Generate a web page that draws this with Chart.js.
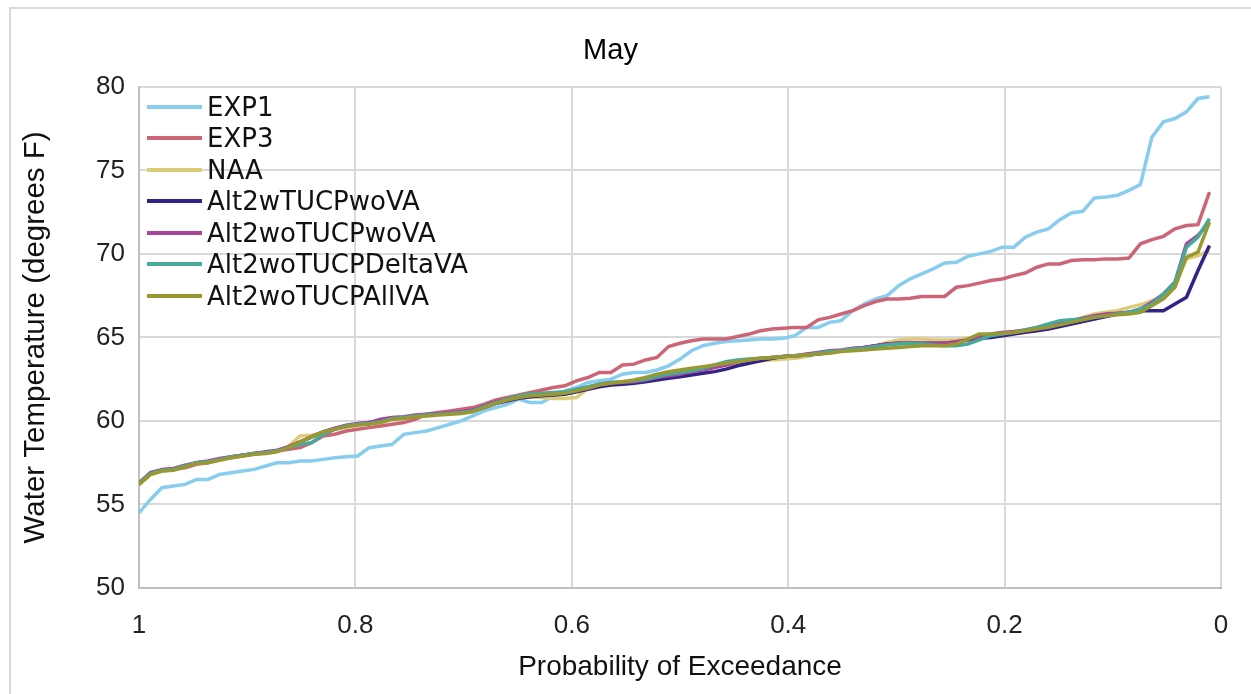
<!DOCTYPE html>
<html>
<head>
<meta charset="utf-8">
<script src="https://cdn.jsdelivr.net/npm/chart.js@4.4.1/dist/chart.umd.min.js"></script>
<style>
  html, body { margin: 0; padding: 0; background: #fff; }
  #wrap { position: relative; width: 1251px; height: 694px; overflow: hidden; }
  #frame { position: absolute; left: 9px; top: 7px; width: 1260px; height: 700px; border-left: 2px solid #d9d9d9; border-top: 2px solid #d9d9d9; }
  #legend { position: absolute; left: 147px; top: 91px; font-family: 'DejaVu Sans'; font-size: 26px; color: #111; }
  #legend .row { height: 31.5px; display: flex; align-items: center; white-space: nowrap; }
  #legend .sw { display: inline-block; width: 55px; height: 4px; margin-right: 5px; }
  canvas { position: absolute; left: 0; top: 0; }
</style>
</head>
<body>
<div id="wrap">
  <div id="frame"></div>
  <canvas id="myChart" width="1251" height="694"></canvas>
  <div id="legend"></div>
</div>
<script>
// 94 years ranked
const seriesNames = ['EXP1', 'EXP3', 'NAA', 'Alt2wTUCPwoVA', 'Alt2woTUCPwoVA', 'Alt2woTUCPDeltaVA', 'Alt2woTUCPAllVA'];
const seriesColors = ['#88CCEE', '#CC6677', '#DDCC77', '#332288', '#AA4499', '#44AA99', '#999933'];

const exp1 = [54.5,55.3,56.0,56.1,56.2,56.5,56.5,56.8,56.9,57.0,
  57.1,57.3,57.5,57.5,57.6,57.6,57.7,57.8,57.85,57.9,
  58.4,58.5,58.6,59.2,59.3,59.4,59.6,59.8,60.0,60.3,
  60.6,60.8,61.0,61.3,61.1,61.1,61.5,61.8,62.0,62.3,
  62.4,62.5,62.8,62.9,62.9,63.05,63.3,63.7,64.2,64.5,
  64.65,64.75,64.8,64.85,64.9,64.9,64.95,65.1,65.6,65.6,
  65.9,66.0,66.6,67.0,67.3,67.5,68.1,68.5,68.8,69.1,
  69.45,69.5,69.85,70.0,70.15,70.4,70.4,71.0,71.3,71.5,
  72.05,72.45,72.55,73.35,73.4,73.5,73.8,74.15,77.0,77.9,
  78.1,78.5,79.3,79.4];

const exp3 = [56.2,56.8,57.0,57.1,57.2,57.4,57.5,57.7,57.8,57.9,
  58.0,58.1,58.2,58.3,58.4,58.7,59.1,59.2,59.4,59.5,
  59.6,59.7,59.8,59.9,60.1,60.4,60.5,60.6,60.7,60.8,
  61.0,61.25,61.4,61.55,61.7,61.85,62.0,62.1,62.4,62.6,
  62.9,62.9,63.35,63.4,63.65,63.8,64.45,64.65,64.8,64.9,
  64.9,64.9,65.05,65.2,65.4,65.5,65.55,65.6,65.6,66.05,
  66.2,66.4,66.6,66.9,67.15,67.3,67.3,67.35,67.45,67.45,
  67.45,68.0,68.1,68.25,68.4,68.5,68.7,68.85,69.2,69.4,
  69.4,69.6,69.65,69.65,69.7,69.7,69.75,70.6,70.85,71.05,
  71.5,71.7,71.75,73.7];

const naa = [56.2,56.8,57.0,57.1,57.3,57.45,57.55,57.7,57.8,57.95,
  58.0,58.1,58.2,58.5,59.1,59.15,59.3,59.5,59.65,59.75,
  59.85,59.95,60.1,60.2,60.3,60.35,60.4,60.45,60.5,60.6,
  60.8,61.05,61.2,61.35,61.45,61.4,61.35,61.35,61.4,61.95,
  62.15,62.25,62.3,62.35,62.5,62.7,62.8,62.9,63.0,63.1,
  63.25,63.35,63.45,63.55,63.6,63.65,63.7,63.75,63.85,64.05,
  64.15,64.2,64.3,64.35,64.5,64.7,64.85,64.9,64.9,64.85,
  64.85,64.85,64.95,65.05,65.15,65.2,65.3,65.4,65.5,65.65,
  65.85,66.0,66.2,66.4,66.5,66.6,66.8,66.95,67.2,67.5,
  68.3,69.7,69.9,70.2];

const alt2wTucpWoVa = [56.25,56.9,57.05,57.1,57.3,57.5,57.55,57.7,57.85,57.95,
  58.05,58.1,58.2,58.45,58.75,59.05,59.35,59.55,59.7,59.8,
  59.9,60.0,60.15,60.2,60.3,60.35,60.4,60.45,60.5,60.6,
  60.8,61.05,61.2,61.35,61.45,61.5,61.55,61.6,61.75,61.9,
  62.05,62.15,62.2,62.25,62.35,62.45,62.55,62.65,62.75,62.85,
  62.95,63.1,63.3,63.45,63.6,63.75,63.85,63.9,63.95,64.0,
  64.1,64.2,64.3,64.4,64.5,64.6,64.65,64.65,64.65,64.65,
  64.65,64.7,64.85,64.95,65.0,65.1,65.2,65.3,65.4,65.5,
  65.65,65.8,65.95,66.1,66.25,66.4,66.5,66.6,66.6,66.6,
  67.0,67.4,69.0,70.5];

const alt2woTucpWoVa = [56.3,56.9,57.1,57.15,57.35,57.5,57.6,57.75,57.85,57.95,
  58.05,58.15,58.25,58.45,58.75,59.05,59.35,59.55,59.75,59.85,
  59.9,60.1,60.2,60.25,60.35,60.4,60.45,60.5,60.55,60.65,
  60.9,61.15,61.3,61.45,61.55,61.6,61.65,61.7,61.85,62.0,
  62.2,62.3,62.3,62.35,62.45,62.6,62.7,62.8,62.95,63.05,
  63.2,63.35,63.55,63.65,63.75,63.8,63.85,63.9,64.0,64.1,
  64.2,64.25,64.35,64.4,64.5,64.6,64.65,64.7,64.65,64.65,
  64.65,64.75,64.85,65.05,65.2,65.3,65.35,65.45,65.6,65.7,
  65.85,66.0,66.15,66.3,66.4,66.45,66.5,66.7,67.1,67.6,
  68.3,70.6,71.1,71.9];

const alt2woTucpDeltaVa = [56.25,56.85,57.05,57.1,57.3,57.5,57.55,57.7,57.85,57.95,
  58.05,58.1,58.2,58.4,58.6,58.7,59.2,59.5,59.7,59.8,
  59.85,59.95,60.15,60.2,60.3,60.35,60.4,60.45,60.5,60.6,
  60.85,61.1,61.3,61.5,61.6,61.65,61.7,61.75,61.9,62.05,
  62.2,62.3,62.35,62.4,62.5,62.65,62.8,62.9,63.0,63.15,
  63.35,63.55,63.65,63.7,63.75,63.8,63.85,63.9,63.95,64.05,
  64.15,64.2,64.3,64.35,64.45,64.55,64.6,64.65,64.6,64.55,
  64.5,64.5,64.6,64.85,65.1,65.2,65.3,65.45,65.6,65.8,
  66.0,66.05,66.1,66.2,66.3,66.4,66.5,66.7,67.0,67.6,
  68.3,70.4,71.0,72.1];

const alt2woTucpAllVa = [56.2,56.8,57.0,57.05,57.25,57.45,57.5,57.65,57.8,57.9,
  58.0,58.05,58.15,58.4,58.75,59.05,59.35,59.5,59.65,59.75,
  59.8,59.9,60.1,60.15,60.25,60.3,60.35,60.4,60.45,60.55,
  60.8,61.05,61.25,61.4,61.5,61.55,61.6,61.65,61.8,61.95,
  62.15,62.25,62.35,62.45,62.6,62.8,62.95,63.05,63.15,63.25,
  63.35,63.45,63.55,63.65,63.75,63.8,63.85,63.9,63.95,64.0,
  64.05,64.15,64.2,64.25,64.3,64.35,64.4,64.45,64.5,64.5,
  64.5,64.6,64.9,65.2,65.2,65.25,65.3,65.4,65.5,65.6,
  65.75,65.9,66.05,66.2,66.3,66.35,66.4,66.5,66.9,67.3,
  68.0,69.8,70.1,71.9];

const xTicks = [1, 0.8, 0.6, 0.4, 0.2, 0];
const yTicks = [50, 55, 60, 65, 70, 75, 80];

const allSeries = [exp1, exp3, naa, alt2wTucpWoVa, alt2woTucpWoVa, alt2woTucpDeltaVa, alt2woTucpAllVa];
const nYears = exp1.length;
// probability of exceedance for ranked values (rank / n)
const exceedance = exp1.map((v, i) => 1 - i / nYears);

const axisFont = 'Liberation Sans';

const datasets = allSeries.map((vals, k) => {
    return {
        label: seriesNames[k],
        data: vals.map((v, i) => ({x: exceedance[i], y: v})),
        borderColor: seriesColors[k],
        backgroundColor: seriesColors[k],
        borderWidth: 3.5,
        pointRadius: 0,
        tension: 0,
        order: allSeries.length - k
    };
});

// legend inside the plot, top left
const legendDiv = document.getElementById('legend');
seriesNames.forEach((name, k) => {
    const row = document.createElement('div');
    row.className = 'row';
    const sw = document.createElement('span');
    sw.className = 'sw';
    sw.style.background = seriesColors[k];
    row.appendChild(sw);
    row.appendChild(document.createTextNode(name));
    legendDiv.appendChild(row);
});

const ctx = document.getElementById('myChart').getContext('2d');
new Chart(ctx, {
    type: 'line',
    data: { datasets: datasets },
    options: {
        responsive: false,
        animation: false,
        layout: { padding: { left: 0, right: 30, top: 0, bottom: 0 } },
        plugins: {
            legend: { display: false },
            tooltip: { enabled: false },
            title: {
                display: true,
                text: 'May',
                color: '#000',
                font: { family: axisFont, size: 29, weight: 'normal' },
                padding: { top: 34, bottom: 18 }
            }
        },
        scales: {
            x: {
                type: 'linear',
                reverse: true,
                min: 0,
                max: 1,
                afterBuildTicks: (scale) => { scale.ticks = xTicks.map(v => ({value: v})); },
                afterFit: (scale) => { scale.height = 106; },
                ticks: {
                    color: '#222',
                    font: { family: axisFont, size: 26 },
                    padding: 22,
                    maxRotation: 0,
                    callback: (v) => String(v)
                },
                grid: { color: '#d9d9d9', lineWidth: 2, drawTicks: false },
                border: { color: '#bfbfbf', width: 2 },
                title: {
                    display: true,
                    text: 'Probability of Exceedance',
                    color: '#111',
                    font: { family: axisFont, size: 28 },
                    padding: { top: 0, bottom: 10 }
                }
            },
            y: {
                min: 50,
                max: 80,
                afterBuildTicks: (scale) => { scale.ticks = yTicks.map(v => ({value: v})); },
                afterFit: (scale) => { scale.width = 139; },
                ticks: {
                    color: '#222',
                    font: { family: axisFont, size: 26 },
                    padding: 14
                },
                grid: { color: '#d9d9d9', lineWidth: 2, drawTicks: false },
                border: { color: '#bfbfbf', width: 2 },
                title: {
                    display: true,
                    text: 'Water Temperature (degrees F)',
                    color: '#111',
                    font: { family: axisFont, size: 29.5 },
                    padding: { top: 18, bottom: 0 }
                }
            }
        }
    }
});
</script>
</body>
</html>
